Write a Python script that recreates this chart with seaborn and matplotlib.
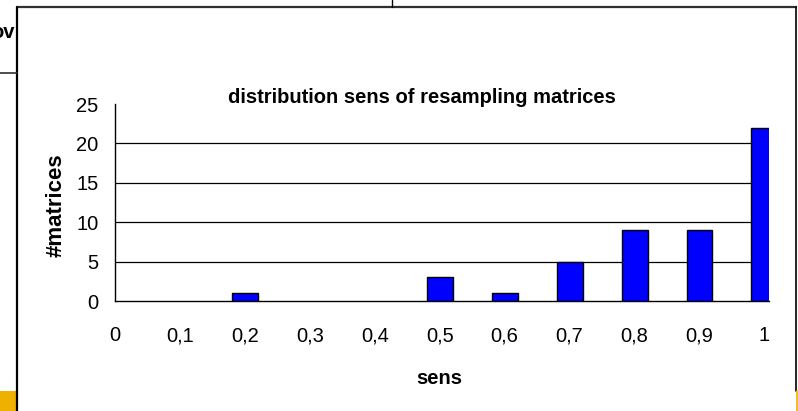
import matplotlib
matplotlib.use("Agg")
import matplotlib.pyplot as plt
from matplotlib.lines import Line2D
from matplotlib.patches import Rectangle
import seaborn as sns
import pandas as pd

# Sensitivity values of the resampling matrices and how many matrices fall in each bin
sens = [0.2, 0.5, 0.6, 0.7, 0.8, 0.9, 1.0]
n_matrices = [1, 3, 1, 5, 9, 9, 22]

x_ticks = [0, 0.1, 0.2, 0.3, 0.4, 0.5, 0.6, 0.7, 0.8, 0.9, 1.0]
x_tick_labels = ["0", "0,1", "0,2", "0,3", "0,4", "0,5", "0,6", "0,7", "0,8", "0,9", "1"]
y_ticks = [0, 5, 10, 15, 20, 25]

sns.set_style("white")
plt.rcParams["font.family"] = ["Liberation Sans", "DejaVu Sans"]
plt.rcParams["text.color"] = "black"

W, H = 798, 411
fig = plt.figure(figsize=(W / 100, H / 100), dpi=100)
fig.patch.set_facecolor("white")


def fx(px):
    return px / W


def fy(py):
    return 1 - py / H


ax = fig.add_axes([fx(115), fy(301), fx(769) - fx(115), fy(104) - fy(301)])
df = pd.DataFrame({"sens": sens, "matrices": n_matrices})
sns.barplot(data=df, x="sens", y="matrices", native_scale=True, width=0.4,
            color="#0000FF", saturation=1, edgecolor="black", linewidth=1, ax=ax, zorder=3)

ax.set_xlim(0, 1.007)
ax.set_ylim(0, 25)
ax.set_xticks(x_ticks)
ax.set_xticklabels(x_tick_labels)
ax.set_yticks(y_ticks)
ax.tick_params(axis="both", direction="out", length=5, width=1, color="black",
               labelsize=14.5, labelcolor="black")
ax.tick_params(axis="x", pad=13)
ax.tick_params(axis="y", pad=7)

for v in y_ticks[1:-1]:
    ax.axhline(v, color="black", linewidth=0.9, zorder=1)

for side in ["top", "right"]:
    ax.spines[side].set_visible(False)
for side in ["left", "bottom"]:
    ax.spines[side].set_color("black")
    ax.spines[side].set_linewidth(1)

ax.set_xlabel("")
ax.set_ylabel("")
fig.text(fx(422), fy(97), "distribution sens of resampling matrices",
         ha="center", va="center", fontsize=14.5, fontweight="bold", color="black")
fig.text(fx(439), fy(378), "sens", ha="center", va="center", fontsize=14.5,
         fontweight="bold", color="black")
fig.text(fx(56), fy(205), "#matrices", ha="center", va="center", rotation=90,
         fontsize=16, fontweight="bold", color="black")

# surrounding sheet elements
fig.text(fx(15), fy(32), "ov", ha="right", va="center", fontsize=14.5,
         fontweight="bold", color="black")
frame_col = "#303030"
fig.add_artist(Line2D([fx(17), fx(796)], [fy(7.5), fy(7.5)], transform=fig.transFigure,
                      color=frame_col, linewidth=1.6))
fig.add_artist(Line2D([fx(17), fx(17)], [fy(7.5), fy(411)], transform=fig.transFigure,
                      color="black", linewidth=1.6))
fig.add_artist(Line2D([fx(796), fx(796)], [fy(7.5), fy(391)], transform=fig.transFigure,
                      color="black", linewidth=1.2))
fig.add_artist(Line2D([fx(0), fx(17)], [fy(72.5), fy(72.5)], transform=fig.transFigure,
                      color=frame_col, linewidth=1.2))
fig.add_artist(Line2D([fx(392), fx(392)], [fy(0), fy(7)], transform=fig.transFigure,
                      color="black", linewidth=1))
fig.add_artist(Rectangle((fx(0), fy(411)), fx(16), fy(391) - fy(411), transform=fig.transFigure,
                         facecolor="#F0B000", edgecolor="none"))
fig.add_artist(Line2D([fx(797), fx(797)], [fy(391), fy(411)], transform=fig.transFigure,
                      color="#F0B000", linewidth=1.2))

fig.savefig("out.png", dpi=100)
